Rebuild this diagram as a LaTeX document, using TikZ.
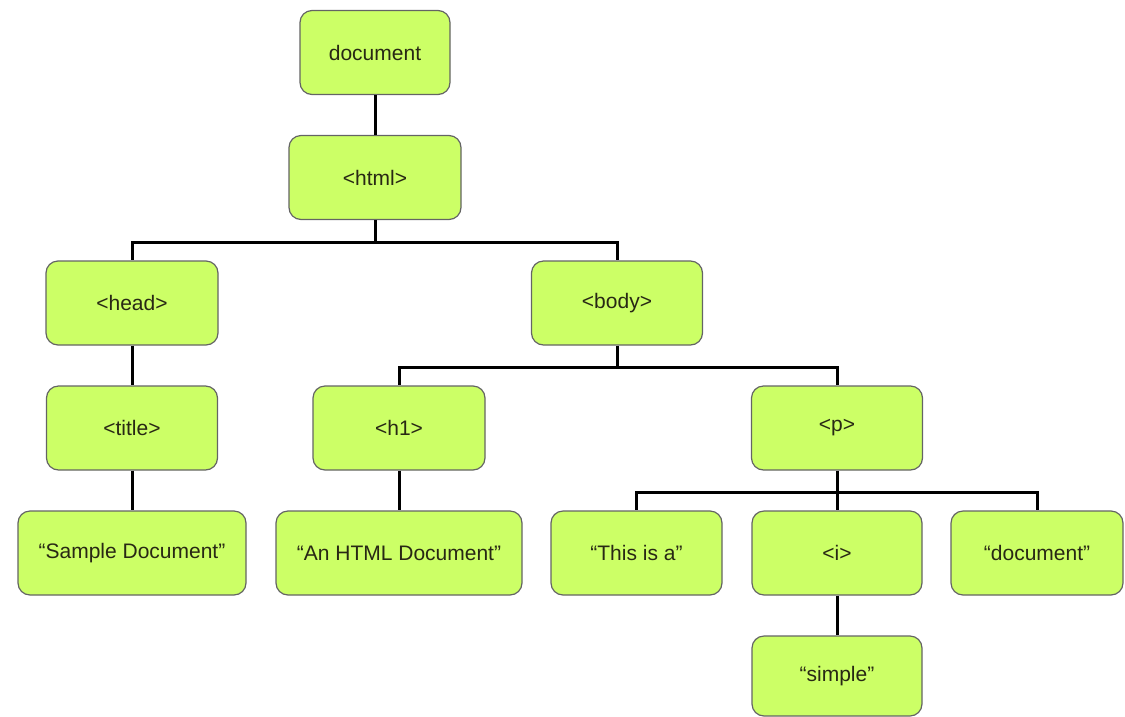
\documentclass[tikz,border=0pt]{standalone}
\usepackage{fontspec}
\setmainfont{Liberation Sans}
\definecolor{boxfill}{RGB}{204,255,102}
\definecolor{boxdraw}{RGB}{100,100,100}
\definecolor{txt}{RGB}{40,40,20}
\begin{document}
\begin{tikzpicture}[x=1pt,y=-1pt,
  tnode/.style={draw=boxdraw,line width=1.2pt,fill=boxfill,rounded corners=12pt,
    minimum width=#1,minimum height=84pt,inner sep=0pt,text=txt,
    font=\fontsize{21}{24}\selectfont},
  tnode/.default=172pt,
  conn/.style={line width=3pt,black}]
\useasboundingbox (0,0) rectangle (1125,716);
\coordinate (b1) at (375,242);
\coordinate (b2) at (617,367);
\coordinate (b3) at (837,492);
\node[tnode=150pt] (doc) at (375,52.5) {document};
\node[tnode] (html) at (375,177.5) {<html>};
\node[tnode] (head) at (132,303) {<head>};
\node[tnode=171pt] (body) at (617,303) {<body>};
\node[tnode=171pt] (title) at (132,428) {<title>};
\node[tnode] (h1) at (399,428) {<h1>};
\node[tnode=171pt] (p) at (837,428) {<p>};
\node[tnode=228pt] (sample) at (132,553) {“Sample Document”};
\node[tnode=246pt] (anhtml) at (399,553) {“An HTML Document”};
\node[tnode=171pt] (thisis) at (636.5,553) {“This is a”};
\node[tnode=170pt] (inode) at (837,553) {<i>};
\node[tnode] (docw) at (1037,553) {“document”};
\node[tnode=170pt,minimum height=80pt] (simple) at (837,676) {“simple”};
\draw[conn] (doc.south) -- (html.north);
\draw[conn] (html.south) -- (b1);
\draw[conn] (b1) -| (head.north);
\draw[conn] (b1) -| (body.north);
\draw[conn] (head.south) -- (title.north);
\draw[conn] (title.south) -- (sample.north);
\draw[conn] (body.south) -- (b2);
\draw[conn] (b2) -| (h1.north);
\draw[conn] (b2) -| (p.north);
\draw[conn] (h1.south) -- (anhtml.north);
\draw[conn] (p.south) -- (b3);
\draw[conn] (b3) -| (thisis.north);
\draw[conn] (b3) -| (docw.north);
\draw[conn] (b3) -- (inode.north);
\draw[conn] (inode.south) -- (simple.north);
\end{tikzpicture}
\end{document}
